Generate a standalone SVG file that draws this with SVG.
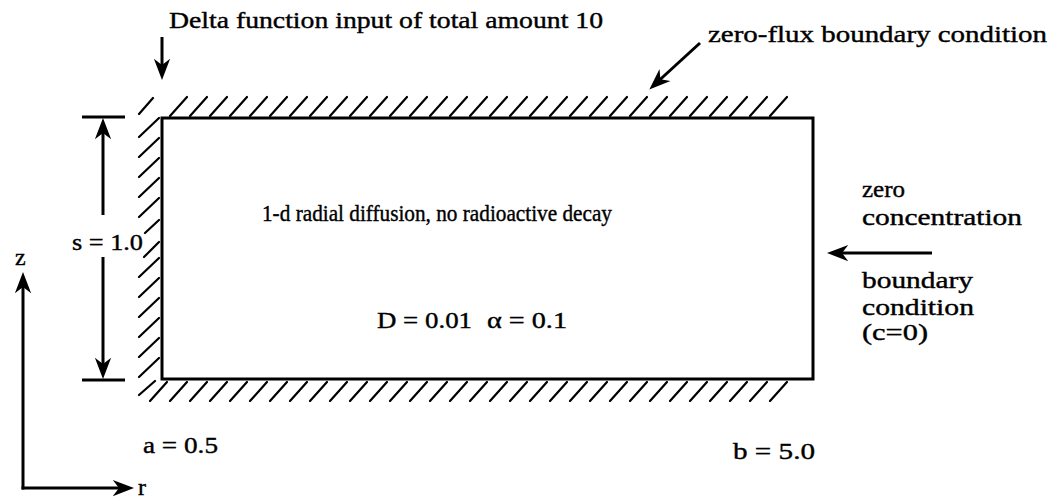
<svg xmlns="http://www.w3.org/2000/svg" width="1064" height="500" viewBox="0 0 1064 500">
<defs>
<style>
text{font-family:"Liberation Serif","Times New Roman",serif;font-size:24px;fill:#000;stroke:#000;stroke-width:0.4}
.ln{stroke:#000;stroke-width:3;fill:none}
.ax{stroke:#000;stroke-width:3;fill:none}
.ht{stroke:#000;stroke-width:2.2;fill:none;stroke-linecap:round}
</style>
<marker id="ah" markerUnits="userSpaceOnUse" markerWidth="30" markerHeight="20" viewBox="-16 -8 22 16" refX="0" refY="0" orient="auto" overflow="visible">
<path d="M4,0 L-13,-6.5 L-8,0 L-13,6.5 Z" fill="#000"/>
</marker>
</defs>
<rect width="1064" height="500" fill="#fff"/>

<g id="domain">
<rect x="162" y="118" width="651" height="261" class="ln"/>
<path class="ht" d="M170,116l17,-19 M190,116l17,-19 M210,116l17,-19 M230,116l17,-19 M250,116l17,-19 M270,116l17,-19 M290,116l17,-19 M310,116l17,-19 M330,116l17,-19 M350,116l17,-19 M370,116l17,-19 M390,116l17,-19 M410,116l17,-19 M430,116l17,-19 M450,116l17,-19 M470,116l17,-19 M490,116l17,-19 M510,116l17,-19 M530,116l17,-19 M550,116l17,-19 M570,116l17,-19 M590,116l17,-19 M610,116l17,-19 M630,116l17,-19 M650,116l17,-19 M670,116l17,-19 M690,116l17,-19 M710,116l17,-19 M730,116l17,-19 M750,116l17,-19 M770,116l17,-19"/>
<path class="ht" d="M139,114l14,-16 M139,137l20,-19 M139,157l20,-19 M139,177l20,-19 M139,197l20,-19 M139,217l20,-19 M145,233l14,-13 M144,257l15,-15 M139,277l20,-19 M139,297l20,-19 M139,317l20,-19 M139,337l20,-19 M139,357l20,-19 M139,377l20,-19 M139,395l16,-14"/>
<path class="ht" d="M150,401l17,-19 M170,401l17,-19 M190,401l17,-19 M210,401l17,-19 M230,401l17,-19 M250,401l17,-19 M270,401l17,-19 M290,401l17,-19 M310,401l17,-19 M330,401l17,-19 M350,401l17,-19 M370,401l17,-19 M390,401l17,-19 M410,401l17,-19 M430,401l17,-19 M450,401l17,-19 M470,401l17,-19 M490,401l17,-19 M510,401l17,-19 M530,401l17,-19 M550,401l17,-19 M570,401l17,-19 M590,401l17,-19 M610,401l17,-19 M630,401l17,-19 M650,401l17,-19 M670,401l17,-19 M690,401l17,-19 M710,401l17,-19 M730,401l17,-19 M750,401l17,-19 M770,401l17,-19"/>
</g>

<g id="connectors">
<line id="delta-arrow" class="ln" x1="162" y1="37" x2="162" y2="75" marker-end="url(#ah)"/>
<line id="flux-arrow" class="ln" x1="700" y1="43" x2="653" y2="86" marker-end="url(#ah)"/>
<line id="conc-arrow" class="ln" x1="932" y1="253" x2="832" y2="253" marker-end="url(#ah)"/>
<g id="dimension">
<line class="ln" x1="82" y1="117" x2="125" y2="117"/>
<line class="ln" x1="82" y1="380" x2="125" y2="380"/>
<line class="ln" x1="103" y1="215" x2="103" y2="123" marker-end="url(#ah)"/>
<line class="ln" x1="103" y1="257" x2="103" y2="374" marker-end="url(#ah)"/>
</g>
<g id="axes">
<line class="ax" x1="23" y1="489.5" x2="23" y2="277" marker-end="url(#ah)"/>
<line class="ax" x1="21.5" y1="488" x2="129" y2="488" marker-end="url(#ah)"/>
</g>
</g>

<g id="labels">
<text x="169" y="28" textLength="434" lengthAdjust="spacingAndGlyphs">Delta function input of total amount 10</text>
<text x="708" y="42" textLength="339" lengthAdjust="spacingAndGlyphs">zero-flux boundary condition</text>
<text x="262" y="221" textLength="350" lengthAdjust="spacingAndGlyphs">1-d radial diffusion, no radioactive decay</text>
<text x="377" y="328" textLength="95" lengthAdjust="spacingAndGlyphs">D = 0.01</text>
<text x="487" y="328" textLength="80" lengthAdjust="spacingAndGlyphs">α = 0.1</text>
<text x="72" y="250" textLength="71" lengthAdjust="spacingAndGlyphs">s = 1.0</text>
<text x="15" y="265">z</text>
<text x="862" y="197" textLength="43" lengthAdjust="spacingAndGlyphs">zero</text>
<text x="862" y="225" textLength="160" lengthAdjust="spacingAndGlyphs">concentration</text>
<text x="862" y="288" textLength="111" lengthAdjust="spacingAndGlyphs">boundary</text>
<text x="862" y="315" textLength="112" lengthAdjust="spacingAndGlyphs">condition</text>
<text x="862" y="340" textLength="66" lengthAdjust="spacingAndGlyphs">(c=0)</text>
<text x="143" y="453" textLength="75" lengthAdjust="spacingAndGlyphs">a = 0.5</text>
<text x="733" y="459" textLength="82" lengthAdjust="spacingAndGlyphs">b = 5.0</text>
<text x="138" y="495">r</text>
</g>
</svg>
